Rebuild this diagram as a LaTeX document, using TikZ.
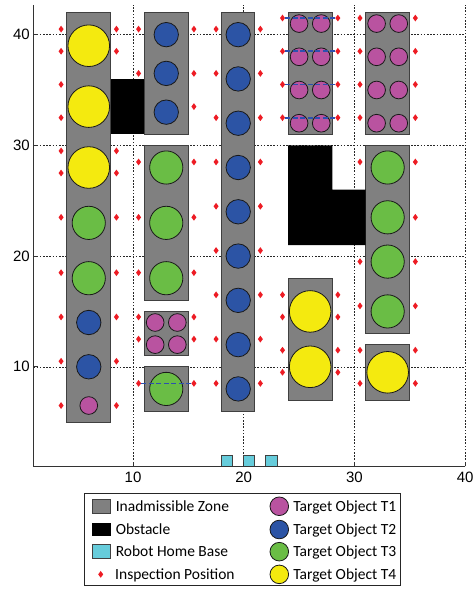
\documentclass[tikz,border=0pt]{standalone}
\usepackage{fontspec}
\setmainfont{Carlito}
\newfontfamily\tickfont{Liberation Sans}
\usetikzlibrary{shapes.geometric, positioning}

\definecolor{zonegray}{RGB}{128,128,128}
\definecolor{tpink}{RGB}{185,83,160}
\definecolor{tblue}{RGB}{44,84,165}
\definecolor{tgreen}{RGB}{106,189,69}
\definecolor{tyellow}{RGB}{244,234,15}
\definecolor{homecyan}{RGB}{102,204,219}
\definecolor{inspred}{RGB}{237,28,36}
\definecolor{linkblue}{RGB}{45,80,175}

\tikzset{
    map_zone/.style={
        draw=black!75,
        fill=zonegray,
        line width=0.8pt
    },
    map_obstacle/.style={
        fill=black
    },
    map_home/.style={
        draw=black!75,
        fill=homecyan,
        line width=0.8pt
    },
    map_grid/.style={
        black!85,
        line width=0.55pt,
        dash pattern=on 1.6pt off 1.6pt
    },
    map_axis/.style={
        black!80,
        line width=0.9pt
    },
    target/.style={
        circle,
        draw=black!90,
        line width=0.8pt,
        inner sep=0pt,
        outer sep=0pt
    },
    target_T1/.style={target, fill=tpink, minimum size=17.7pt},
    target_T2/.style={target, fill=tblue, minimum size=24.4pt},
    target_T3/.style={target, fill=tgreen, minimum size=33.2pt},
    target_T4/.style={target, fill=tyellow, minimum size=41.6pt},
    insp/.style={
        diamond,
        fill=inspred,
        inner sep=0pt,
        minimum width=5.2pt,
        minimum height=7pt
    },
    insp_link/.style={
        draw=linkblue,
        line width=1.7pt,
        dash pattern=on 5pt off 2.5pt
    },
    tick_label/.style={
        font=\tickfont\fontsize{15}{18}\selectfont,
        inner sep=0pt
    },
    legend_icon/.style={
        minimum width=18.4pt,
        minimum height=13.6pt,
        inner sep=0pt,
        line width=0.8pt
    },
    legend_label/.style={
        font=\fontsize{15.5}{18}\selectfont,
        inner sep=0pt,
        text height=10pt,
        text depth=0pt
    }
}

\begin{document}
\begin{tikzpicture}[x=11.07pt, y=11.07pt]
\useasboundingbox (-2.017,-10.072) rectangle (40.89,43.13);

% Grid
\foreach \v in {10,20,30,40} {
  \draw[map_grid] (\v,1) -- (\v,42.7);
  \draw[map_grid] (1,\v) -- (40,\v);
}

% Inadmissible zones
\draw[map_zone] (4,5) rectangle (8,42);
\draw[map_zone] (11,31) rectangle (15,42);
\draw[map_zone] (11,16) rectangle (15,30);
\draw[map_zone] (11,11) rectangle (15,15);
\draw[map_zone] (11,6) rectangle (15,10);
\draw[map_zone] (18,6) rectangle (21,42);
\draw[map_zone] (24,31) rectangle (28,42);
\draw[map_zone] (31,31) rectangle (35,42);
\draw[map_zone] (31,13) rectangle (35,30);
\draw[map_zone] (31,7) rectangle (35,12);
\draw[map_zone] (24,7) rectangle (28,18);

% Obstacles
\fill[map_obstacle] (8,31) rectangle (11,36);
\fill[map_obstacle] (24,21) -- (24,30) -- (28,30) -- (28,26) -- (31,26) -- (31,21) -- cycle;

% Robot home base
\draw[map_home] (18,1) rectangle (19,2);
\draw[map_home] (20,1) rectangle (21,2);
\draw[map_home] (22,1) rectangle (23,2);

% Target objects
\node[target_T4] (tA1) at (6,39) {};
\node[target_T4] (tA2) at (6,33.5) {};
\node[target_T4] (tA3) at (6,28) {};
\node[target_T3] (tA4) at (6,23) {};
\node[target_T3] (tA5) at (6,18) {};
\node[target_T2] (tA6) at (6,14) {};
\node[target_T2] (tA7) at (6,10) {};
\node[target_T1] (tA8) at (6,6.5) {};

\node[target_T2] (tB1) at (13,40) {};
\node[target_T2] (tB2) at (13,36.5) {};
\node[target_T2] (tB3) at (13,33) {};
\node[target_T3] (tC1) at (13,28) {};
\node[target_T3] (tC2) at (13,23) {};
\node[target_T3] (tC3) at (13,18) {};
\node[target_T1] (tD1) at (12,14) {};
\node[target_T1] (tD2) at (14,14) {};
\node[target_T1] (tD3) at (12,12) {};
\node[target_T1] (tD4) at (14,12) {};
\node[target_T3] (tE1) at (13,8) {};

\foreach \y [count=\k] in {40,36,...,8}
  \node[target_T2] (tF\k) at (19.5,\y) {};

\foreach \y [count=\k] in {41,38,35,32} {
  \node[target_T1] (tGl\k) at (25,\y) {};
  \node[target_T1] (tGr\k) at (27,\y) {};
  \node[target_T1] (tHl\k) at (32,\y) {};
  \node[target_T1] (tHr\k) at (34,\y) {};
}

\node[target_T3] (tI1) at (33,28) {};
\node[target_T3] (tI2) at (33,23.5) {};
\node[target_T3] (tI3) at (33,19.5) {};
\node[target_T3] (tI4) at (33,15) {};
\node[target_T4] (tJ1) at (33,9.5) {};
\node[target_T4] (tK1) at (26,15) {};
\node[target_T4] (tK2) at (26,10) {};

% Inspection positions
\foreach \y [count=\k] in {40.5,38.5,35.5,32.5,29.5,27.5,23.5,18.5,14.5,10.5,6.5}
  \node[insp] (ipAl\k) at (3.5,\y) {};
\foreach \y [count=\k] in {40.5,38.5,29.5,27.5,23.5,18.5,14.5,10.5,6.5}
  \node[insp] (ipAr\k) at (8.5,\y) {};

\foreach \y [count=\k] in {40.5,36.5}
  \node[insp] (ipBl\k) at (10.5,\y) {};
\foreach \y [count=\k] in {40.5,36.5,33.5}
  \node[insp] (ipBr\k) at (15.5,\y) {};
\foreach \y [count=\k] in {28.5,23.5,18.5} {
  \node[insp] (ipCl\k) at (10.5,\y) {};
  \node[insp] (ipCr\k) at (15.5,\y) {};
}
\foreach \y [count=\k] in {14.5,12.5} {
  \node[insp] (ipDl\k) at (10.5,\y) {};
  \node[insp] (ipDr\k) at (15.5,\y) {};
}
\node[insp] (ipEl) at (10.5,8.5) {};
\node[insp] (ipEr) at (15.5,8.5) {};

\foreach \y [count=\k] in {40.5,36.5,...,8.5} {
  \node[insp] (ipFl\k) at (17.5,\y) {};
  \node[insp] (ipFr\k) at (21.5,\y) {};
}

\foreach \y [count=\k] in {41.5,38.5,35.5,32.5} {
  \node[insp] (ipGl\k) at (23.5,\y) {};
  \node[insp] (ipGr\k) at (28.5,\y) {};
  \node[insp] (ipHl\k) at (30.5,\y) {};
  \node[insp] (ipHr\k) at (35.5,\y) {};
}

\foreach \y [count=\k] in {28.5,19.5,15.5}
  \node[insp] (ipIl\k) at (30.5,\y) {};
\foreach \y [count=\k] in {28.5,23.5,19.5,15.5}
  \node[insp] (ipIr\k) at (35.5,\y) {};
\foreach \y [count=\k] in {11.5,8.5} {
  \node[insp] (ipJl\k) at (30.5,\y) {};
  \node[insp] (ipJr\k) at (35.5,\y) {};
}
\foreach \y [count=\k] in {16.5,14.5,11.5,9.5} {
  \node[insp] (ipKl\k) at (23.5,\y) {};
  \node[insp] (ipKr\k) at (28.5,\y) {};
}

% Inspection links
\draw[insp_link] (ipEl) -- (ipEr);
\foreach \k in {1,...,4}
  \draw[insp_link] (ipGl\k) -- (ipGr\k);

% Axes
\draw[map_axis] (1,42.7) -- (1,1) -- (40,1);
\foreach \v in {10,20,30,40} {
  \draw[map_axis] (\v,1) -- (\v,1.4);
  \draw[map_axis] (1,\v) -- (1.4,\v);
  \node[tick_label, anchor=north] (xt\v) at (\v,0.52) {\v};
  \node[tick_label, anchor=east] (yt\v) at (0.69,\v) {\v};
}

% Legend
\draw[black!85, line width=0.9pt] (5.6,-1.43) rectangle (34.12,-9.77);

\node[legend_icon, draw=black!75, fill=zonegray] (legZone) at (7.15,-2.6) {};
\node[legend_label, right=4.5pt of legZone] (legZoneText) {Inadmissible Zone};
\node[legend_icon, fill=black] (legObst) at (7.15,-4.7) {};
\node[legend_label, right=4.5pt of legObst] (legObstText) {Obstacle};
\node[legend_icon, draw=black!75, fill=homecyan] (legHome) at (7.15,-6.7) {};
\node[legend_label, right=4.5pt of legHome] (legHomeText) {Robot Home Base};
\node[insp] (legInsp) at (7.08,-8.75) {};
\node[legend_label, right=11.5pt of legInsp] (legInspText) {Inspection Position};

\node[target_T1, minimum size=18.6pt] (legT1) at (23.21,-2.6) {};
\node[legend_label, right=4.5pt of legT1] (legT1Text) {Target Object T1};
\node[target_T2, minimum size=18.6pt] (legT2) at (23.21,-4.7) {};
\node[legend_label, right=4.5pt of legT2] (legT2Text) {Target Object T2};
\node[target_T3, minimum size=18.6pt] (legT3) at (23.21,-6.7) {};
\node[legend_label, right=4.5pt of legT3] (legT3Text) {Target Object T3};
\node[target_T4, minimum size=18.6pt] (legT4) at (23.21,-8.75) {};
\node[legend_label, right=4.5pt of legT4] (legT4Text) {Target Object T4};

\end{tikzpicture}
\end{document}
